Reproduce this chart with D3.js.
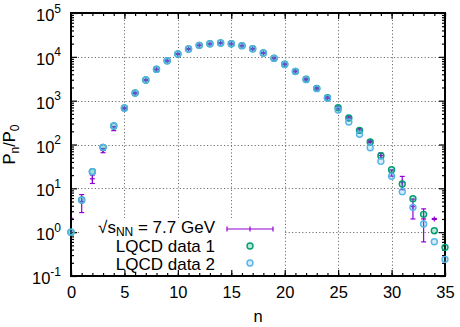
<!DOCTYPE html>
<html><head><meta charset="utf-8">
<script src="https://cdn.jsdelivr.net/npm/d3@7"></script>
<style>
body{margin:0;background:#fff}
svg{display:block}
text{font-family:"Liberation Sans",Arial,Helvetica,sans-serif;fill:#000}
</style>
</head><body>
<svg id="chart" width="460" height="327"></svg>
<script>
// ---- data ----
const nValues = [0,1,2,3,4,5,6,7,8,9,10,11,12,13,14,15,16,17,18,19,20,21,22,23,24,25,26,27,28,29,30,31,32,33,34,35];
const lqcd1 = [1,5.4,24,86,264,680,1500,2960,5190,8160,11600,15100,18300,19950,20700,19950,18000,15300,12200,9250,6750,4670,3070,1910,1170,690,402,210,114,55.5,26.6,12.6,5.8,2.55,1.08,0.45];
const lqcd2 = [1,5.4,24,86,264,670,1490,2950,5170,8150,11600,15100,18300,19950,20700,19950,18000,15300,12200,9200,6700,4620,3020,1880,1140,612,326,171,84.5,41.3,18.8,8.4,3.68,1.53,0.605,0.24];
const expN   = [0,1,2,3,4,5,6,7,8,9,10,11,12,13,14,15,16,17,18,19,20,21,22,23,24,25,26,27,28,29,30,31,32,33,34];
const expVal = [1,5.0,16.5,73,231,670,1480,2950,5150,8150,11600,15100,18300,19900,20700,19900,18000,15300,12200,9250,6750,4670,3070,1910,1170,690,400,215,118,56,22.6,14,3.85,2.0,2.0];
const expErr = [1.07,2.2,3.6,8,24,20,40,70,110,160,200,250,300,300,320,300,300,280,250,220,180,140,110,80,55,40,28,18,8,8,3.6,4.7,1.85,1.4,0.05];
const xTicks = [0,5,10,15,20,25,30,35];
const yTicks = [0.1,1,10,100,1000,10000,100000];
const yTickExp = ["-1","0","1","2","3","4","5"];
const legendLabels = ["= 7.7 GeV","LQCD data 1","LQCD data 2"];

// ---- layout ----
const L=71, R=445, T=13, B=276;
const colExp="#9400d3", col1="#009e73", col2="#56b4e9";
const svg = d3.select("#chart");
const x = d3.scaleLinear().domain([0,35]).range([L,R]);
const y = d3.scaleLog().domain([0.1,1e5]).range([B,T]);

// grid
const grid = svg.append("g").attr("stroke","#707070").attr("stroke-width",1).attr("stroke-dasharray","1.2,2.2");
grid.selectAll("line.v").data(xTicks.slice(1,-1)).join("line")
  .attr("x1",d=>Math.round(x(d))+0.5).attr("x2",d=>Math.round(x(d))+0.5).attr("y1",T).attr("y2",B);
grid.selectAll("line.h").data(yTicks.slice(1,-1)).join("line")
  .attr("y1",d=>Math.round(y(d))+0.5).attr("y2",d=>Math.round(y(d))+0.5).attr("x1",L).attr("x2",R);

// legend box (white, hides grid)
svg.append("rect").attr("x",80).attr("y",218).attr("width",203).attr("height",57).attr("fill","#fff");

// clip
svg.append("clipPath").attr("id","clip").append("rect").attr("x",L).attr("y",T).attr("width",R-L).attr("height",B-T);

// experimental error bars
const ge = svg.append("g").attr("clip-path","url(#clip)").attr("stroke",colExp).attr("stroke-width",1.2).attr("fill","none");
expN.forEach((n,i)=>{
  const v=expVal[i], e=expErr[i];
  const cx=x(n);
  const yt=y(v+e);
  const lo=v-e;
  const yb= lo>0 ? y(lo) : B+5;
  ge.append("line").attr("x1",cx).attr("x2",cx).attr("y1",yt).attr("y2",yb);
  ge.append("line").attr("x1",cx-2.5).attr("x2",cx+2.5).attr("y1",yt).attr("y2",yt);
  if(lo>0) ge.append("line").attr("x1",cx-2.5).attr("x2",cx+2.5).attr("y1",yb).attr("y2",yb);
  const cy=y(v);
  ge.append("line").attr("x1",cx-2.5).attr("x2",cx+2.5).attr("y1",cy).attr("y2",cy);
  ge.append("line").attr("x1",cx).attr("x2",cx).attr("y1",cy-2.5).attr("y2",cy+2.5);
});

// axes
const xMinor = nValues;
const yMinor = [];
yTicks.slice(0,-1).forEach(d=>{[2,3,4,5,6,7,8,9].forEach(k=>yMinor.push(d*k));});

function styleAxis(g){ g.select(".domain").remove(); g.selectAll(".tick line").attr("stroke","#000").attr("stroke-width",1.2); }

svg.append("g").attr("transform",`translate(0,${B})`)
  .call(d3.axisBottom(x).tickValues(xMinor).tickSize(-3).tickFormat("")).call(styleAxis);
svg.append("g").attr("transform",`translate(0,${T})`)
  .call(d3.axisTop(x).tickValues(xMinor).tickSize(-3).tickFormat("")).call(styleAxis);
svg.append("g").attr("transform",`translate(0,${B})`)
  .call(d3.axisBottom(x).tickValues(xTicks).tickSize(-6).tickPadding(10).tickFormat(d3.format("d"))).call(styleAxis)
  .selectAll("text").attr("font-size",16.5).attr("font-family","Liberation Sans, Arial, sans-serif").attr("fill","#000");
svg.append("g").attr("transform",`translate(0,${T})`)
  .call(d3.axisTop(x).tickValues(xTicks).tickSize(-6).tickFormat("")).call(styleAxis);

svg.append("g").attr("transform",`translate(${L},0)`)
  .call(d3.axisLeft(y).tickValues(yMinor).tickSize(-3).tickFormat("")).call(styleAxis);
svg.append("g").attr("transform",`translate(${R},0)`)
  .call(d3.axisRight(y).tickValues(yMinor).tickSize(-3).tickFormat("")).call(styleAxis);
const yAx = svg.append("g").attr("transform",`translate(${L},0)`)
  .call(d3.axisLeft(y).tickValues(yTicks).tickSize(-6).tickFormat("")).call(styleAxis);
svg.append("g").attr("transform",`translate(${R},0)`)
  .call(d3.axisRight(y).tickValues(yTicks).tickSize(-6).tickFormat("")).call(styleAxis);

// y tick labels with superscripts
yAx.selectAll(".tick").each(function(d,i){
  const t = d3.select(this).append("text").attr("x",-10).attr("y",7.5)
    .attr("text-anchor","end").attr("font-size",16.5).attr("fill","#000");
  t.append("tspan").text("10");
  t.append("tspan").attr("dy",-8.5).attr("font-size",12).text(yTickExp[yTicks.indexOf(d)]);
});

// frame
svg.append("rect").attr("x",L).attr("y",T).attr("width",R-L).attr("height",B-T)
  .attr("fill","none").attr("stroke","#000").attr("stroke-width",2);

// LQCD points
function drawPts(vals,col){
  svg.append("g").selectAll("circle").data(nValues).join("circle")
    .attr("cx",d=>x(d)).attr("cy",(d,i)=>y(vals[i])).attr("r",3)
    .attr("fill",col).attr("fill-opacity",0.25).attr("stroke",col).attr("stroke-width",1.4);
}
drawPts(lqcd1,col1);
drawPts(lqcd2,col2);

// axis titles
svg.append("text").attr("x",(L+R)/2).attr("y",322).attr("text-anchor","middle").attr("font-size",16.5).text("n");
const yl = svg.append("text").attr("transform",`translate(15,${(T+B)/2}) rotate(-90)`).attr("text-anchor","middle").attr("font-size",16.5);
yl.append("tspan").text("P");
yl.append("tspan").attr("dy",4).attr("font-size",12).text("n");
yl.append("tspan").attr("dy",-4).text("/P");
yl.append("tspan").attr("dy",4).attr("font-size",12).text("0");

// legend
const lx=215;
const l1 = svg.append("text").attr("x",lx).attr("y",232.5).attr("text-anchor","end").attr("font-size",17);
l1.append("tspan").text("√s");
l1.append("tspan").attr("dy",3.5).attr("font-size",12).text("NN");
l1.append("tspan").attr("dy",-3.5).text(" " + legendLabels[0]);
svg.append("text").attr("x",lx).attr("y",252).attr("text-anchor","end").attr("font-size",17).text(legendLabels[1]);
svg.append("text").attr("x",lx).attr("y",269.5).attr("text-anchor","end").attr("font-size",17).text(legendLabels[2]);
const lg = svg.append("g").attr("stroke",colExp).attr("stroke-width",1.2);
lg.append("line").attr("x1",227).attr("x2",273).attr("y1",229).attr("y2",229);
lg.append("line").attr("x1",227).attr("x2",227).attr("y1",226.5).attr("y2",231.5);
lg.append("line").attr("x1",273).attr("x2",273).attr("y1",226.5).attr("y2",231.5);
lg.append("line").attr("x1",250).attr("x2",250).attr("y1",226.5).attr("y2",231.5);
[[246,col1],[263,col2]].forEach(([cy,c])=>{
  svg.append("circle").attr("cx",250).attr("cy",cy).attr("r",3).attr("fill",c).attr("fill-opacity",0.25).attr("stroke",c).attr("stroke-width",1.4);
});
</script>
</body></html>
